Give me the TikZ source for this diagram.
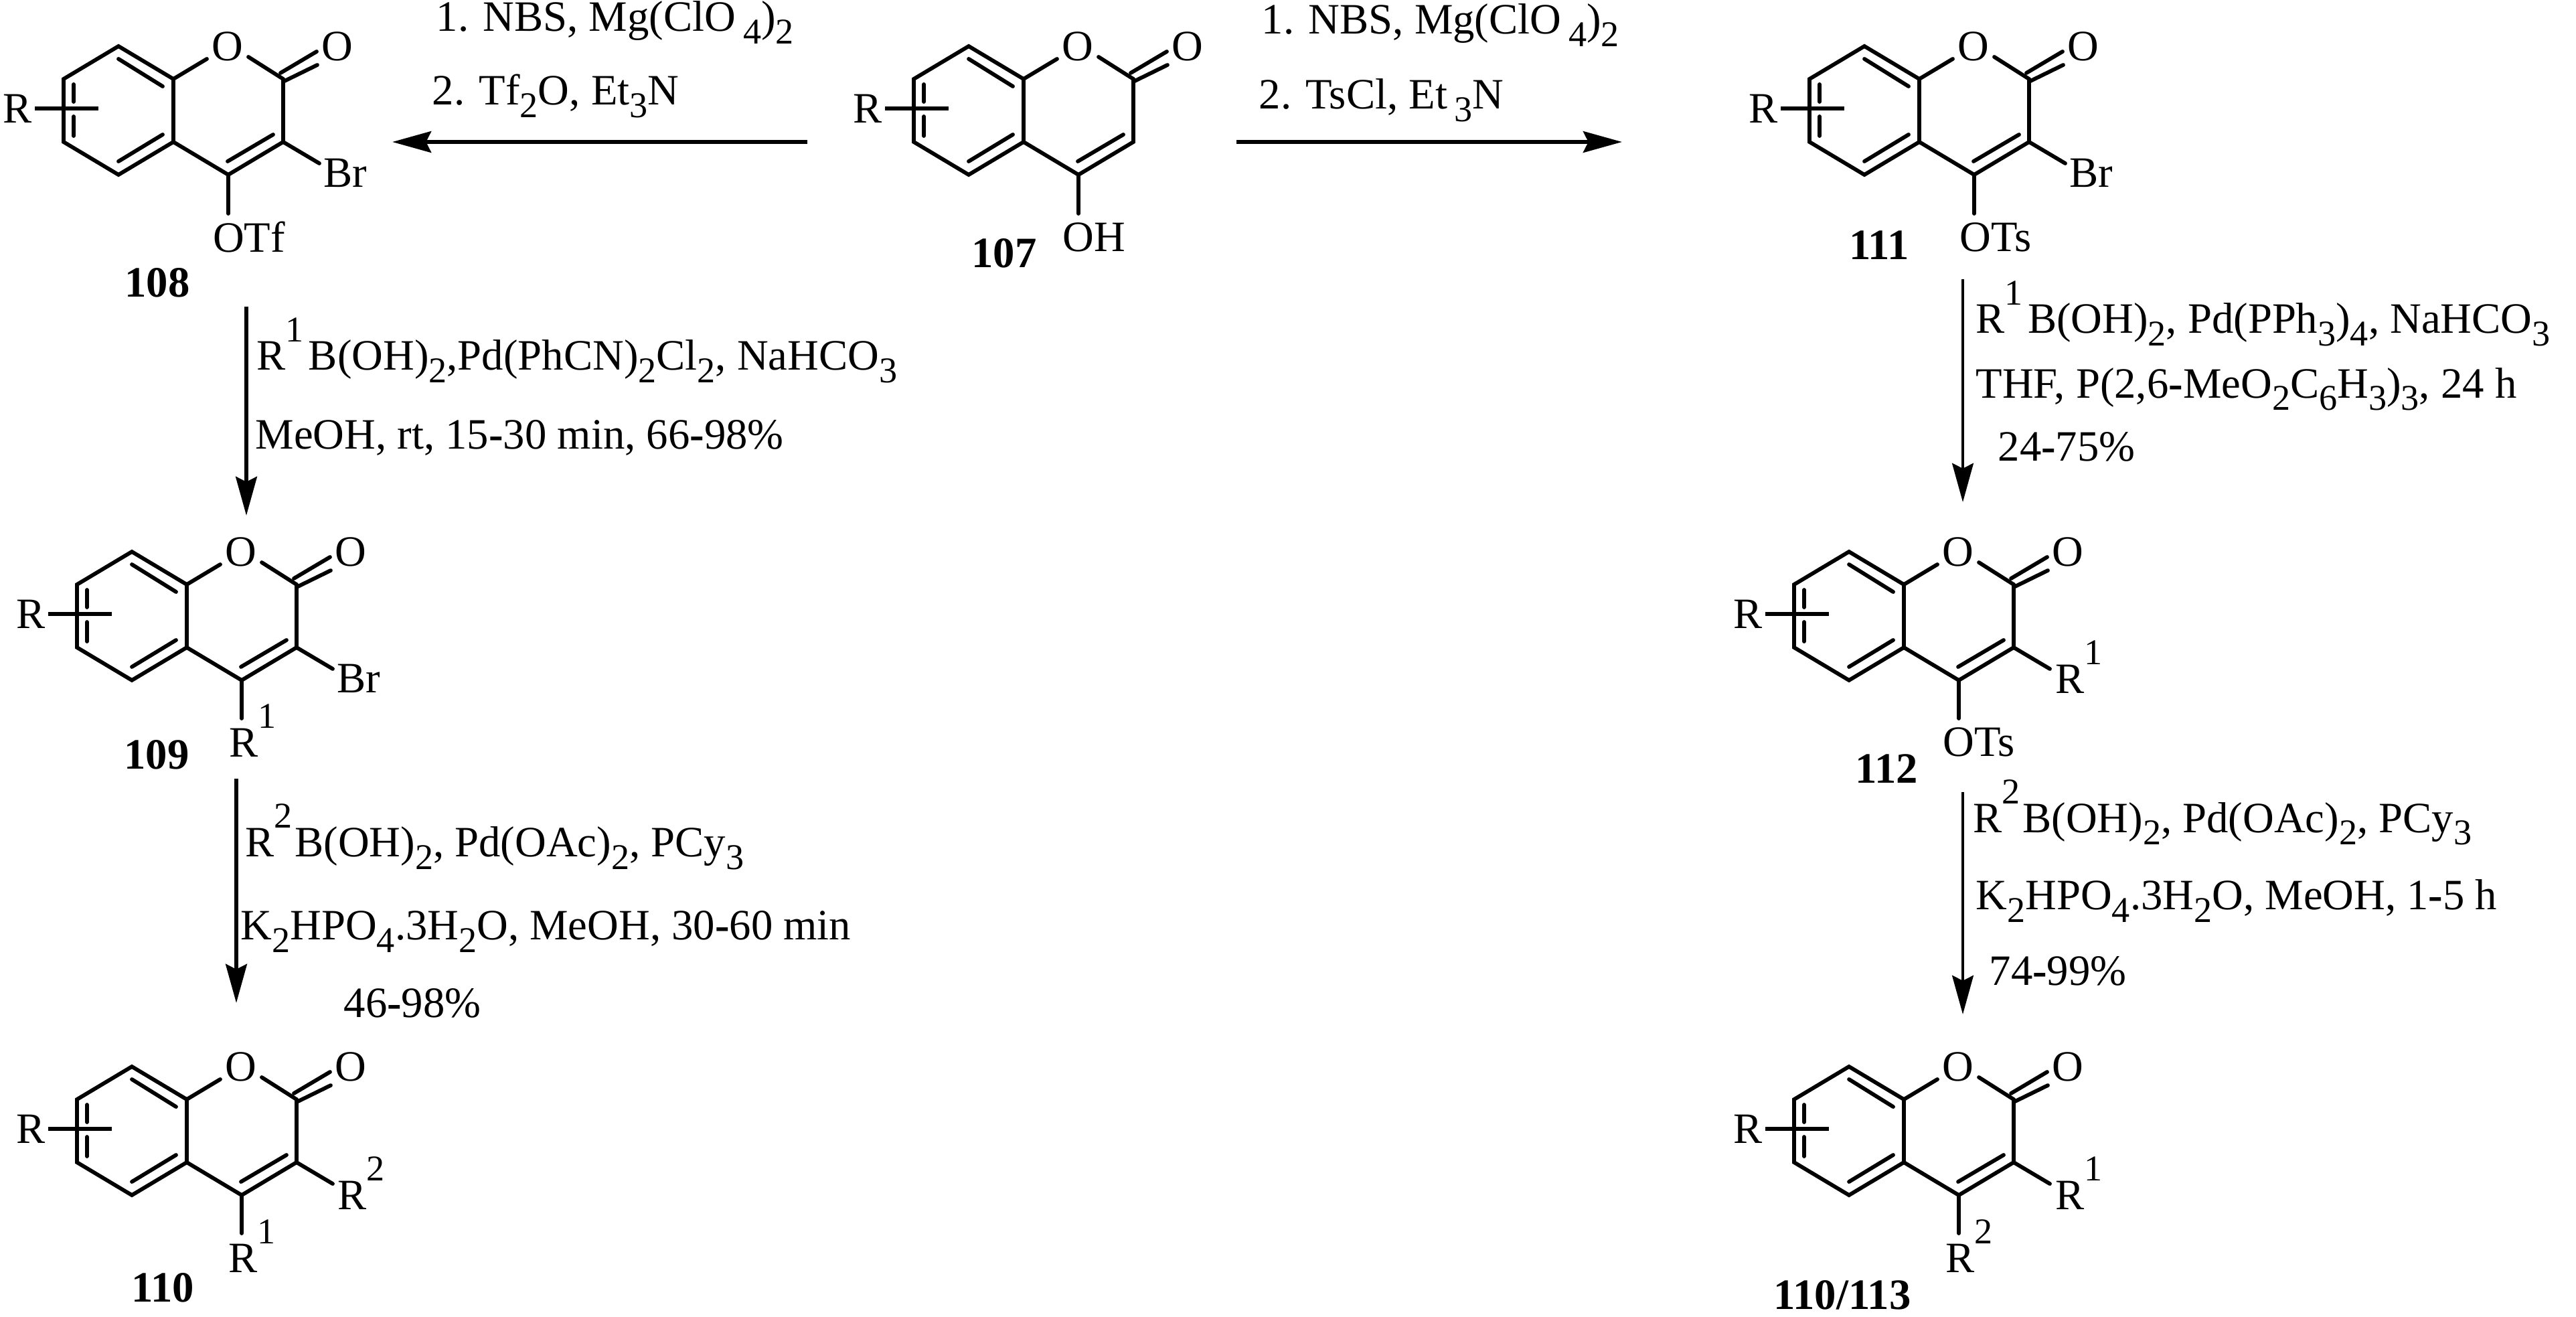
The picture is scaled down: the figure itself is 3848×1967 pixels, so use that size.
\documentclass[tikz,border=0pt]{standalone}
\usepackage{fontspec}
\setmainfont{Liberation Serif}
\usetikzlibrary{arrows.meta}
\newcommand\subd[1]{\raisebox{-5.4pt}{\fontsize{15.4}{17}\selectfont #1}}
\newcommand\supd[1]{\raisebox{12.2pt}{\fontsize{15.4}{17}\selectfont #1}}
\newcommand\hy{\textbf{-}}
\tikzset{
  bond/.style={line width=1.65pt,line cap=round,black},
  stick/.style={line width=1.8pt,black},
  rarrow/.style={line width=1.7pt,black,-{Stealth[length=16.5pt,width=9pt,inset=2.2pt]}},
  varrow/.style={line width=1.4pt,black,-{Stealth[length=16.5pt,width=9pt,inset=2.2pt]}},
  atom/.style={inner sep=0pt,font=\fontsize{18.4}{21}\selectfont},
  txt/.style={inner sep=0pt,anchor=base west,font=\fontsize{18.4}{21}\selectfont},
  cpd/.style={inner sep=0pt,font=\fontsize{18.4}{21}\selectfont\bfseries}
}
% ring: prefix, x and y of the upper fusion atom
\newcommand\coumarin[3]{%
  \begin{scope}[shift={(#2,#3)}]
    \coordinate (#1a) at (0,0);
    \coordinate (#1b) at (-82,-49);
    \coordinate (#1c) at (-164,0);
    \coordinate (#1d) at (-164,94);
    \coordinate (#1e) at (-82,143);
    \coordinate (#1f) at (0,94);
    \coordinate (#1g) at (82,143);
    \coordinate (#1h) at (164,94);
    \coordinate (#1i) at (164,0);
    \node[atom] (#1O) at (81,-49) {O};
    \node[atom] (#1CO) at (245,-49) {O};
    \node[atom] (#1R) at (-233,44) {R};
    \coordinate (#1s0) at (-207,44);
    \coordinate (#1s1) at (-112,44);
    \draw[bond] (#1a) -- (#1b) -- (#1c) -- (#1d) -- (#1e) -- (#1f) -- (#1a);
    \draw[bond] (#1f) -- (#1g) -- (#1h) -- (#1i);
    \draw[bond] (#1a) -- (50,-30);
    \draw[bond] (112,-33) -- (#1i);
    \draw[bond] (160,-9) -- (214,-41);
    \draw[bond] (166,3) -- (215,-21);
    \draw[bond] (-149,8) -- (-149,34);
    \draw[bond] (-149,56) -- (-149,85);
    \draw[bond] (-82,-30) -- (-16,11);
    \draw[bond] (-82,123) -- (-16,83);
    \draw[bond] (81,123) -- (149,83);
    \draw[stick] (#1s0) -- (#1s1);
  \end{scope}}
\begin{document}
\begin{tikzpicture}[x=.01cm,y=-.01cm]
\useasboundingbox (0,0) rectangle (3848,1967);
% 108
\coumarin{A}{259}{118}
\coordinate (Ax) at (477,244); \draw[bond] (Ah) -- (Ax);
\coordinate (Ay) at (341,319); \draw[bond] (Ag) -- (Ay);
\node[atom] (Abr) at (516,258) {Br};
\node[atom] (Aot) at (372,354) {OTf};
\node[cpd] (Acp) at (235,422) {108};
% 107
\coumarin{B}{1529}{118}
\coordinate (By) at (1611,319); \draw[bond] (Bg) -- (By);
\node[atom] (Boh) at (1634,354) {OH};
\node[cpd] (Bcp) at (1500,378) {107};
% 111
\coumarin{C}{2867}{118}
\coordinate (Cx) at (3085,244); \draw[bond] (Ch) -- (Cx);
\coordinate (Cy) at (2949,319); \draw[bond] (Cg) -- (Cy);
\node[atom] (Cbr) at (3124,258) {Br};
\node[atom] (Cot) at (2981,354) {OTs};
\node[cpd] (Ccp) at (2807,366) {111};
% 109
\coumarin{D}{279}{873}
\coordinate (Dx) at (497,999); \draw[bond] (Dh) -- (Dx);
\coordinate (Dy) at (361,1073); \draw[bond] (Dg) -- (Dy);
\node[atom] (Dbr) at (536,1013) {Br};
\node[txt] (Dr) at (342,1130) {R\supd{1}};
\node[cpd] (Dcp) at (234,1127) {109};
% 110
\coumarin{E}{279}{1642}
\coordinate (Ex) at (497,1768); \draw[bond] (Eh) -- (Ex);
\coordinate (Ey) at (361,1842); \draw[bond] (Eg) -- (Ey);
\node[txt] (Er2) at (504,1806) {R\supd{2}};
\node[txt] (Er1) at (341,1900) {R\supd{1}};
\node[cpd] (Ecp) at (243,1923) {110};
% 112
\coumarin{F}{2844}{873}
\coordinate (Fx) at (3062,999); \draw[bond] (Fh) -- (Fx);
\coordinate (Fy) at (2926,1073); \draw[bond] (Fg) -- (Fy);
\node[txt] (Fr) at (3070,1035) {R\supd{1}};
\node[atom] (Fot) at (2956,1108) {OTs};
\node[cpd] (Fcp) at (2818,1148) {112};
% 110/113
\coumarin{G}{2844}{1642}
\coordinate (Gx) at (3062,1768); \draw[bond] (Gh) -- (Gx);
\coordinate (Gy) at (2926,1842); \draw[bond] (Gg) -- (Gy);
\node[txt] (Gr1) at (3070,1806) {R\supd{1}};
\node[txt] (Gr2) at (2906,1900) {R\supd{2}};
\node[cpd] (Gcp) at (2752,1934) {110/113};
% arrows
\coordinate (a1s) at (1206,212); \coordinate (a1e) at (586,212);
\draw[rarrow] (a1s) -- (a1e);
\coordinate (a2s) at (1847,212); \coordinate (a2e) at (2423,212);
\draw[rarrow] (a2s) -- (a2e);
\coordinate (a3s) at (368,458); \coordinate (a3e) at (368,770);
\draw[rarrow] (a3s) -- (a3e);
\coordinate (a4s) at (353,1163); \coordinate (a4e) at (353,1498);
\draw[rarrow] (a4s) -- (a4e);
\coordinate (a5s) at (2932,417); \coordinate (a5e) at (2932,750);
\draw[varrow] (a5s) -- (a5e);
\coordinate (a6s) at (2932,1183); \coordinate (a6e) at (2932,1515);
\draw[varrow] (a6s) -- (a6e);
% reagents
\node[txt] (t1) at (651,47) {1. NBS, Mg(ClO\,\subd{4})\subd{2}};
\node[txt] (t2) at (645,157) {2. Tf\subd{2}O, Et\subd{3}N};
\node[txt] (t3) at (1884,51) {1. NBS, Mg(ClO\,\subd{4})\subd{2}};
\node[txt] (t4) at (1880,163) {2. TsCl, Et\,\subd{3}N};
\node[txt] (t5) at (383,553) {R\supd{1}\kern2pt B(OH)\subd{2},Pd(PhCN)\subd{2}Cl\subd{2}, NaHCO\subd{3}};
\node[txt] (t6) at (381,670) {MeOH, rt, 15\hy30 min, 66\hy98\%};
\node[txt] (t7) at (366,1279) {R\supd{2}\kern1pt B(OH)\subd{2}, Pd(OAc)\subd{2}, PCy\subd{3}};
\node[txt] (t8) at (359,1403) {K\subd{2}HPO\subd{4}.3H\subd{2}O, MeOH, 30\hy60 min};
\node[txt] (t9) at (513,1519) {46\hy98\%};
\node[txt] (t10) at (2951,498) {R\supd{1}\kern2pt B(OH)\subd{2}, Pd(PPh\subd{3})\subd{4}, NaHCO\subd{3}};
\node[txt] (t11) at (2951,594) {THF, P(2,6\hy MeO\subd{2}C\subd{6}H\subd{3})\subd{3}, 24 h};
\node[txt] (t12) at (2984,688) {24\hy75\%};
\node[txt] (t13) at (2947,1243) {R\supd{2}\kern1pt B(OH)\subd{2}, Pd(OAc)\subd{2}, PCy\subd{3}};
\node[txt] (t14) at (2951,1358) {K\subd{2}HPO\subd{4}.3H\subd{2}O, MeOH, 1\hy5 h};
\node[txt] (t15) at (2971,1471) {74\hy99\%};
\end{tikzpicture}
\end{document}
